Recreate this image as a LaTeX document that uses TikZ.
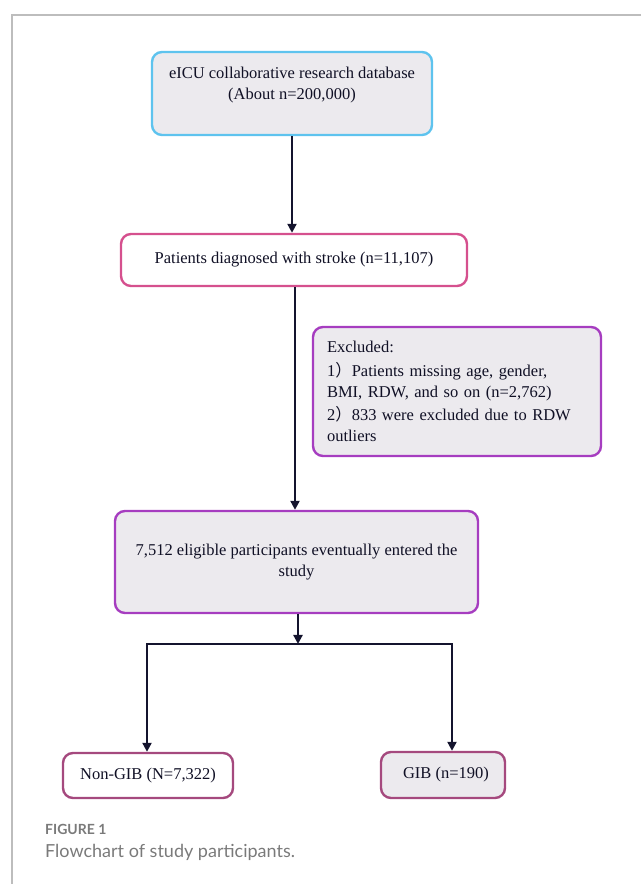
\documentclass[tikz,border=0pt]{standalone}
\usepackage{fontspec}
\setmainfont{Liberation Serif}
\newfontfamily\capfont{Lato}
\newfontfamily\cjk{Noto Sans CJK SC}
\usetikzlibrary{arrows.meta,positioning}
\definecolor{flow-cyan}{HTML}{5EC3EE}
\definecolor{flow-pink}{HTML}{D5508E}
\definecolor{flow-purple}{HTML}{A63DC0}
\definecolor{flow-plum}{HTML}{A5497E}
\definecolor{flow-fill}{HTML}{ECEAEE}
\definecolor{flow-ink}{HTML}{14142E}
\definecolor{flow-frame}{HTML}{BDBDBD}
\definecolor{flow-caption}{HTML}{7A7A7A}

\begin{document}
\begin{tikzpicture}[x=1pt,y=1pt,>={Triangle[length=9pt,width=9pt]},
  box/.style={draw,line width=2.4pt,rounded corners=10pt,inner sep=0pt,
    font=\fontsize{16.5}{21}\selectfont,align=center,text=flow-ink!80!black},
  flow/.style={->,line width=2.2pt,draw=flow-ink}]
  \useasboundingbox (0,0) rectangle (641,884);

  % Ramme
  \draw[flow-frame,line width=1.2pt] (641,869) -- (12,869) -- (12,0);

  % Kasser
  \node[box,draw=flow-cyan,fill=flow-fill,minimum width=280pt,minimum height=83pt]
    (db) at (292,790.5) {eICU collaborative research database\\(About n=200,000)\\\mbox{}};
  \node[box,draw=flow-pink,fill=white,minimum width=346pt,minimum height=52pt]
    (stroke) at (294,624) {Patients diagnosed with stroke (n=11,107)};
  \node[box,draw=flow-purple,fill=flow-fill,minimum width=288pt,minimum height=129pt,
    align=left,text width=260pt]
    (excl) at (457,492.5) {Excluded:\\[3pt]
      1{\cjk ）}Patients missing age, gender,\\
      BMI, RDW, and so on (n=2,762)\\[2pt]
      2{\cjk ）}833 were excluded due to RDW\\
      outliers};
  \node[box,draw=flow-purple,fill=flow-fill,minimum width=363pt,minimum height=102pt]
    (elig) at (296.5,322) {7,512 eligible participants eventually entered the\\study};
  \node[box,draw=flow-plum,fill=white,minimum width=170pt,minimum height=45pt]
    (nongib) at (148,108.5) {Non-GIB (N=7,322)};
  \node[box,draw=flow-plum,fill=flow-fill,minimum width=124pt,minimum height=46pt]
    (gib) at (443,109) {\hspace{6pt}GIB (n=190)};

  % Pile
  \coordinate (split) at ([xshift=1.5pt]elig.south |- 0,240);
  \draw[flow] (db.south) -- (db.south |- stroke.north);
  \draw[flow] ([xshift=1pt]stroke.south) -- ([xshift=1pt]stroke.south |- elig.north);
  \draw[flow] (split |- elig.south) -- (split);
  \draw[flow] (split) -| ([xshift=-1pt]nongib.north);
  \draw[flow] (split) -| ([xshift=9pt]gib.north);

  % Billedtekst
  \node[anchor=base west,inner sep=0pt,font=\capfont\bfseries\fontsize{14}{16}\selectfont,
    text=flow-caption] (fig) at (45,49) {FIGURE 1};
  \node[anchor=base west,inner sep=0pt,font=\capfont\fontsize{18}{20}\selectfont,
    text=flow-caption] (cap) at (45,26) {Flowchart of study participants.};
\end{tikzpicture}
\end{document}
